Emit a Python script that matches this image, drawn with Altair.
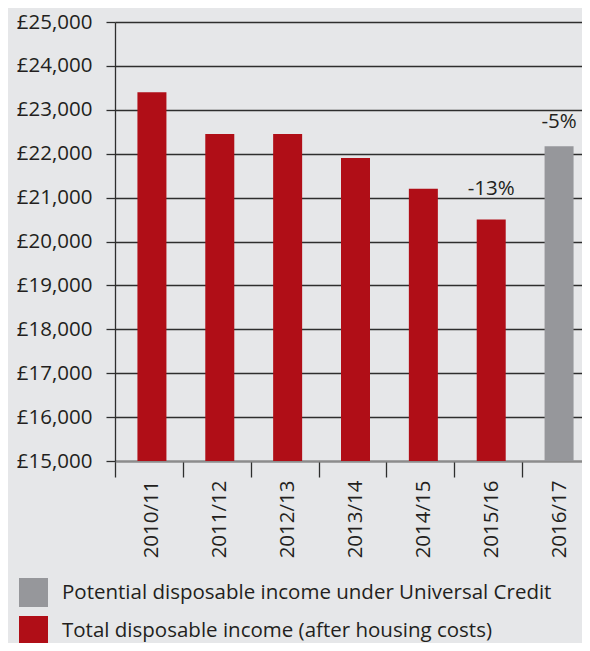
import altair as alt
import pandas as pd

years = ["2010/11", "2011/12", "2012/13", "2013/14", "2014/15", "2015/16", "2016/17"]
incomes = [23400, 22450, 22450, 21900, 21200, 20500, 22170]
series = ["Total disposable income (after housing costs)"] * 6 + [
    "Potential disposable income under Universal Credit"
]
labels = ["", "", "", "", "", "-13%", "-5%"]
legend_order = [
    "Potential disposable income under Universal Credit",
    "Total disposable income (after housing costs)",
]
colors = ["#96979b", "#b00e17"]

df = pd.DataFrame({"year": years, "income": incomes, "series": series, "label": labels})

FONT = "Open Sans"
FS = 20.5
TXT = "#231f20"
GRID = "#2e2e2e"

xscale = alt.Scale(paddingInner=0, paddingOuter=0, range=[0, 475])

x = alt.X(
    "year:N",
    sort=years,
    scale=xscale,
    axis=alt.Axis(
        title=None,
        labelAngle=-90,
        labelFontSize=FS,
        labelFont=FONT,
        labelColor=TXT,
        labelPadding=3,
        labelOffset=3,
        tickBand="extent",
        tickSize=16,
        tickColor=GRID,
        tickWidth=1.3,
        domainColor="#8c8c8c",
        domainWidth=2,
        grid=False,
    ),
)
y = alt.Y(
    "income:Q",
    scale=alt.Scale(domain=[15000, 25000], zero=False, nice=False),
    axis=alt.Axis(
        title=None,
        values=list(range(15000, 25001, 1000)),
        labelExpr="'£' + format(datum.value, ',')",
        labelFontSize=FS,
        labelFont=FONT,
        labelColor=TXT,
        labelPadding=14,
        tickSize=9,
        tickColor=GRID,
        tickWidth=1.3,
        domainColor=GRID,
        domainWidth=1.3,
        grid=True,
        gridColor=alt.condition("datum.value == 15000", alt.value("#8c8c8c"), alt.value(GRID)),
        gridWidth=alt.condition("datum.value == 15000", alt.value(2), alt.value(1.3)),
        gridOpacity=1,
    ),
)

bars = alt.Chart(df).mark_bar(size=29, clip=True, xOffset=3).encode(
    x=x,
    y=y,
    color=alt.Color(
        "series:N",
        scale=alt.Scale(domain=legend_order, range=colors),
        legend=alt.Legend(
            title=None,
            orient="none",
            legendX=-96,
            legendY=556,
            direction="vertical",
            symbolType="square",
            symbolSize=841,
            symbolStrokeWidth=0,
            symbolOpacity=1,
            labelFontSize=FS,
            labelFont=FONT,
            labelColor=TXT,
            labelOffset=14,
            labelLimit=700,
            rowPadding=9,
            padding=0,
        ),
    ),
)

text_a = (
    alt.Chart(df)
    .transform_filter("datum.label == '-13%'")
    .mark_text(dy=-25, xOffset=3, baseline="alphabetic", fontSize=FS, font=FONT, color=TXT)
    .encode(x=alt.X("year:N", sort=years, scale=xscale), y=alt.Y("income:Q"), text="label:N")
)
text_b = (
    alt.Chart(df)
    .transform_filter("datum.label == '-5%'")
    .mark_text(dy=-18, xOffset=3, baseline="alphabetic", fontSize=FS, font=FONT, color=TXT)
    .encode(x=alt.X("year:N", sort=years, scale=xscale), y=alt.Y("income:Q"), text="label:N")
)

chart = (
    alt.layer(bars, text_a, text_b)
    .properties(
        width=467,
        height=439,
        background="#e6e7e9",
        autosize=alt.AutoSizeParams(type="none"),
        padding={"left": 107, "top": 14, "right": 0, "bottom": 182},
    )
    .configure_view(stroke=None)
)

chart.save("out.html", embed_options={"renderer": "svg", "actions": False})
